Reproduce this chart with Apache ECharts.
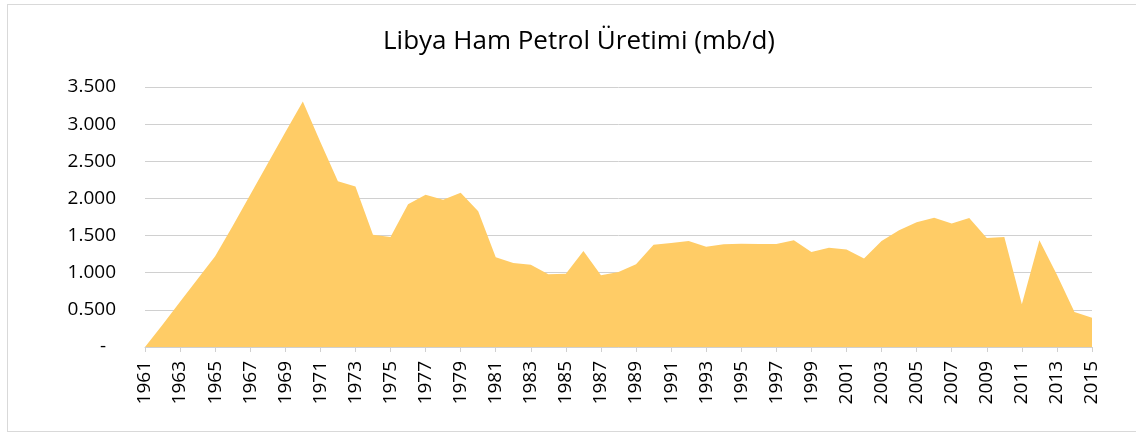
<!DOCTYPE html>
<html>
<head>
<meta charset="utf-8">
<script src="https://cdn.jsdelivr.net/npm/echarts@6/dist/echarts.min.js"></script>
<style>
    html, body { margin: 0; padding: 0; background: #fff; }
    .frame {
        position: absolute; left: 7px; top: 4px;
        width: 1140px; height: 428px;
        border: 1px solid #d9d9d9;
        box-sizing: border-box;
    }
    #chart { position: absolute; left: 0; top: 0; width: 1136px; height: 435px; }
</style>
</head>
<body>
<div class="frame"></div>
<div id="chart"></div>
<script>
    // yillar
    const years = [];
    for (let y = 1961; y <= 2015; y++) years.push(String(y));

    // uretim (bin varil/gun)
    const production = [
        0, 300, 610, 915, 1220, 1630, 2050, 2470, 2890, 3306,
        2760, 2230, 2162, 1512, 1480, 1920, 2050, 1983, 2077, 1826,
        1208, 1130, 1108, 978, 987, 1292, 965, 1009, 1113, 1377,
        1400, 1427, 1350, 1382, 1391, 1386, 1386, 1436, 1279, 1337,
        1314, 1193, 1427, 1570, 1678, 1741, 1664, 1736, 1467, 1480,
        574, 1436, 974, 471, 395
    ];

    const yTicks = [0, 500, 1000, 1500, 2000, 2500, 3000, 3500];

    const chart = echarts.init(document.getElementById('chart'));
    const font = 'Open Sans';

    chart.setOption({
        animation: false,
        title: {
            text: 'Libya Ham Petrol Üretimi (mb/d)',
            left: 574,
            top: 24,
            textAlign: 'center',
            textStyle: { fontFamily: font, fontSize: 26, fontWeight: 'normal', color: '#000' }
        },
        grid: { left: 145, right: 44, top: 87, bottom: 88 },
        xAxis: {
            type: 'category',
            data: years,
            boundaryGap: false,
            axisLine: { lineStyle: { color: '#d0d0d0', width: 1 } },
            axisTick: { interval: 1, length: 5, lineStyle: { color: '#d0d0d0' } },
            axisLabel: {
                interval: 1,
                rotate: 90,
                margin: 14,
                fontFamily: font,
                fontSize: 19,
                color: '#000'
            }
        },
        yAxis: {
            type: 'value',
            min: yTicks[0],
            max: yTicks[yTicks.length - 1],
            interval: 500,
            axisLine: { show: false },
            axisTick: { show: false },
            splitLine: { lineStyle: { color: '#d0d0d0', width: 1 } },
            axisLabel: {
                margin: 29,
                fontFamily: font,
                fontSize: 19,
                color: '#000',
                formatter: function (v) {
                    if (v === 0) return '-  ';
                    return (v / 1000).toFixed(3);
                }
            }
        },
        series: [{
            type: 'line',
            data: production,
            symbol: 'none',
            lineStyle: { width: 0 },
            areaStyle: { color: '#FFCC66', opacity: 1 }
        }]
    });
</script>
</body>
</html>
